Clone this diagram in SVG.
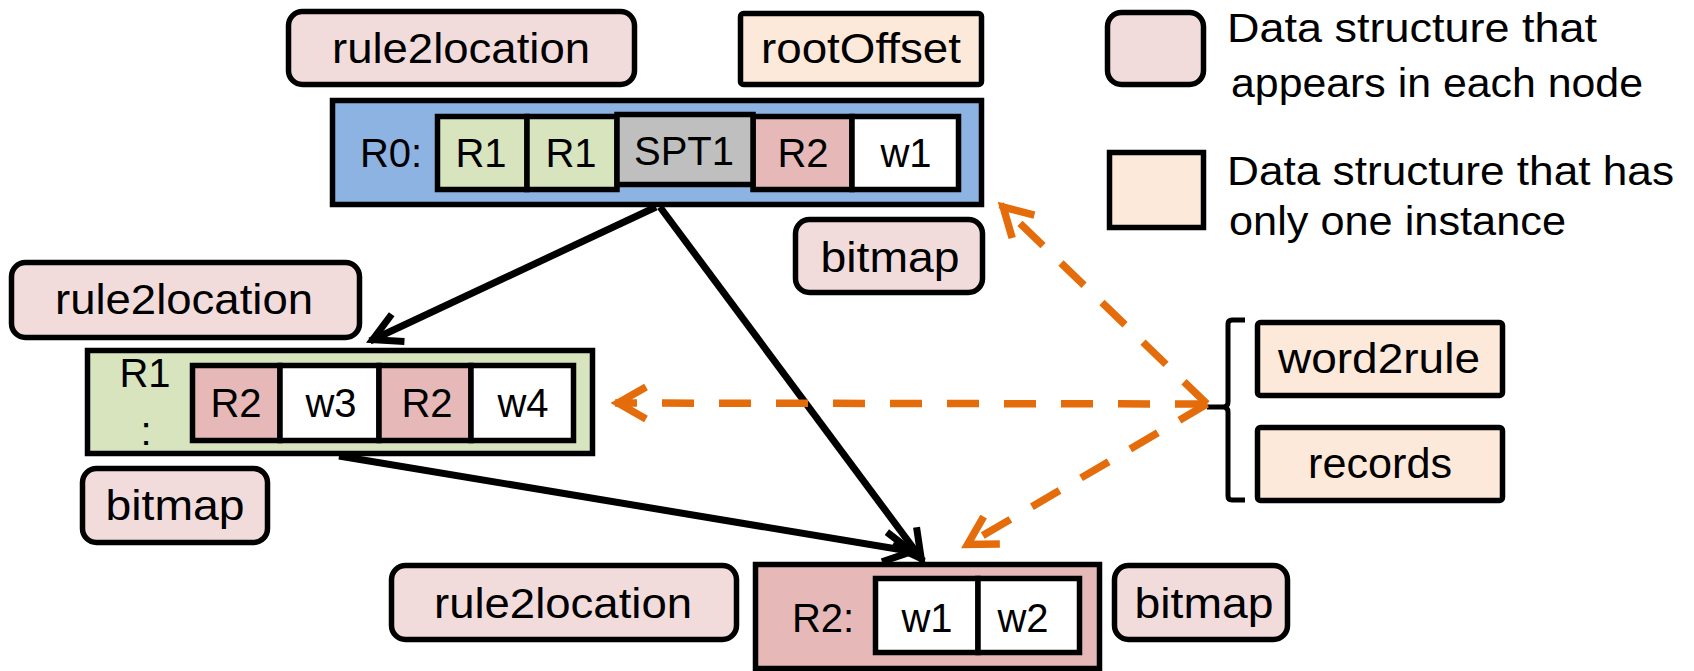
<svg xmlns="http://www.w3.org/2000/svg" width="1694" height="671" viewBox="0 0 1694 671">
<style>
  text { font-family: "Liberation Sans", Arial, sans-serif; fill: #000; text-anchor: middle; }
  .lbl { font-size: 43px; }
  .cel { font-size: 40px; }
  .leg { font-size: 41px; text-anchor: start; }
  .box { stroke: #000; stroke-width: 5.5; }
  .pink { fill: #F2DCDB; }
  .peach { fill: #FDE9D9; }
  .blue { fill: #8DB3E2; }
  .green { fill: #D7E4BD; }
  .gray { fill: #BFBFBF; }
  .red { fill: #E6B9B8; }
  .white { fill: #FFFFFF; }
  .blk { stroke: #000; stroke-width: 7; fill: none; marker-end: url(#ab); }
  .org { stroke: #E46C0A; stroke-width: 7.5; fill: none; stroke-dasharray: 32 25; marker-end: url(#ao); }
</style>
<defs>
  <marker id="ab" markerUnits="userSpaceOnUse" orient="auto" refX="0" refY="0" markerWidth="60" markerHeight="60" viewBox="-40 -30 60 60" overflow="visible">
    <path d="M-31,-15 L-3,0 L-31,15" fill="none" stroke="#000" stroke-width="7" stroke-dasharray="none"/>
  </marker>
  <marker id="ao" markerUnits="userSpaceOnUse" orient="auto" refX="0" refY="0" markerWidth="60" markerHeight="60" viewBox="-40 -30 60 60" overflow="visible">
    <path d="M-31,-16 L-3,0 L-31,16" fill="none" stroke="#E46C0A" stroke-width="7.5" stroke-dasharray="none"/>
  </marker>
</defs>
<rect width="1694" height="671" fill="#FFFFFF"/>

<g id="rule2location-top">
  <rect class="box pink" x="288.5" y="11.5" width="346" height="73" rx="14"/>
  <text class="lbl" x="461" y="63" textLength="258" lengthAdjust="spacingAndGlyphs">rule2location</text>
</g>
<g id="rootOffset">
  <rect class="box peach" x="740.5" y="13.5" width="241" height="71" rx="3"/>
  <text class="lbl" x="861" y="63" textLength="200" lengthAdjust="spacingAndGlyphs">rootOffset</text>
</g>
<g id="R0">
  <rect class="box blue" x="332.5" y="100.5" width="649" height="104"/>
  <text class="cel" x="391" y="167">R0:</text>
  <rect class="box green" x="437.5" y="116.5" width="89.5" height="73"/>
  <rect class="box green" x="527" y="116.5" width="90" height="73"/>
  <rect class="box red" x="753" y="116.5" width="99" height="73"/>
  <rect class="box white" x="852" y="116.5" width="106.5" height="73"/>
  <rect class="box gray" x="617" y="114.5" width="136" height="70"/>
  <text class="cel" x="481" y="167">R1</text>
  <text class="cel" x="571" y="167">R1</text>
  <text class="cel" x="684" y="165">SPT1</text>
  <text class="cel" x="803" y="167">R2</text>
  <text class="cel" x="906" y="167">w1</text>
</g>
<g id="bitmap-R0">
  <rect class="box pink" x="795.5" y="219.5" width="187" height="73" rx="14"/>
  <text class="lbl" x="890" y="272" textLength="139" lengthAdjust="spacingAndGlyphs">bitmap</text>
</g>

<g id="rule2location-R1">
  <rect class="box pink" x="11.5" y="262.5" width="348" height="75" rx="14"/>
  <text class="lbl" x="184" y="314" textLength="258" lengthAdjust="spacingAndGlyphs">rule2location</text>
</g>
<g id="R1">
  <rect class="box green" x="87.5" y="350.5" width="505" height="103"/>
  <text class="cel" x="145" y="387">R1</text>
  <text class="cel" x="146" y="445">:</text>
  <rect class="box red" x="192.5" y="365.5" width="87.5" height="75"/>
  <rect class="box white" x="280" y="365.5" width="99" height="75"/>
  <rect class="box red" x="379" y="365.5" width="92" height="75"/>
  <rect class="box white" x="471" y="365.5" width="102.5" height="75"/>
  <text class="cel" x="236" y="417">R2</text>
  <text class="cel" x="331" y="417">w3</text>
  <text class="cel" x="427" y="417">R2</text>
  <text class="cel" x="523" y="417">w4</text>
</g>
<g id="bitmap-R1">
  <rect class="box pink" x="82.5" y="468.5" width="185" height="74" rx="14"/>
  <text class="lbl" x="175" y="520" textLength="139" lengthAdjust="spacingAndGlyphs">bitmap</text>
</g>

<g id="rule2location-R2">
  <rect class="box pink" x="391.5" y="565.5" width="345" height="74" rx="14"/>
  <text class="lbl" x="563" y="618" textLength="258" lengthAdjust="spacingAndGlyphs">rule2location</text>
</g>
<g id="R2">
  <rect class="box red" x="755.5" y="564.5" width="344" height="104"/>
  <text class="cel" x="823" y="632">R2:</text>
  <rect class="box white" x="875.5" y="578.5" width="102.5" height="74"/>
  <rect class="box white" x="978" y="578.5" width="101.5" height="74"/>
  <text class="cel" x="927" y="632">w1</text>
  <text class="cel" x="1023" y="632">w2</text>
</g>
<g id="bitmap-R2">
  <rect class="box pink" x="1114.5" y="565.5" width="173" height="74" rx="14"/>
  <text class="lbl" x="1204" y="618" textLength="139" lengthAdjust="spacingAndGlyphs">bitmap</text>
</g>

<g id="global-structures">
  <path d="M1245,320 H1232 Q1228,320 1228,324 V402 Q1228,407 1223,407 H1207 M1223,407 Q1228,407 1228,412 V496 Q1228,500 1232,500 H1245" fill="none" stroke="#000" stroke-width="5"/>
  <g id="word2rule">
    <rect class="box peach" x="1257.5" y="322.5" width="245" height="73" rx="3"/>
    <text class="lbl" x="1379" y="373" textLength="202" lengthAdjust="spacingAndGlyphs">word2rule</text>
  </g>
  <g id="records">
    <rect class="box peach" x="1257.5" y="427.5" width="245" height="73" rx="3"/>
    <text class="lbl" x="1380" y="478" textLength="144" lengthAdjust="spacingAndGlyphs">records</text>
  </g>
</g>

<g id="legend">
  <rect class="box pink" x="1107.5" y="12.5" width="96" height="72" rx="14"/>
  <text class="leg" x="1227" y="42" textLength="370" lengthAdjust="spacingAndGlyphs">Data structure that</text>
  <text class="leg" x="1231" y="97" textLength="412" lengthAdjust="spacingAndGlyphs">appears in each node</text>
  <rect class="box peach" x="1109.5" y="152.5" width="94" height="75"/>
  <text class="leg" x="1227" y="185" textLength="447" lengthAdjust="spacingAndGlyphs">Data structure that has</text>
  <text class="leg" x="1229" y="235" textLength="337" lengthAdjust="spacingAndGlyphs">only one instance</text>
</g>

<g id="connectors">
  <line class="blk" x1="656" y1="207" x2="370" y2="341"/>
  <line class="blk" x1="660" y1="207" x2="923" y2="561"/>
  <line class="blk" x1="339" y1="456" x2="915" y2="552"/>
  <line class="org" x1="1207" y1="404" x2="1001" y2="205"/>
  <line class="org" x1="1207" y1="404" x2="615" y2="403"/>
  <line class="org" x1="1207" y1="404" x2="965" y2="546"/>
</g>
</svg>
